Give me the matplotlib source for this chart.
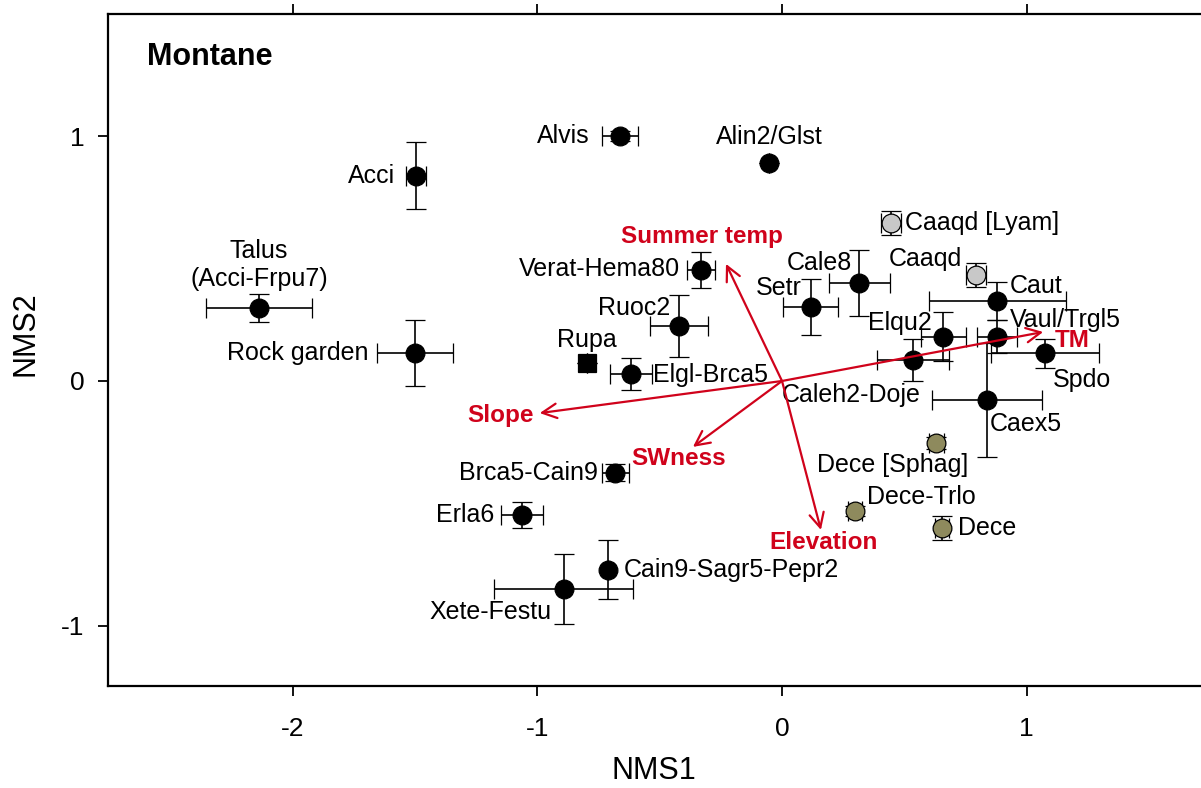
import matplotlib
matplotlib.use("Agg")
import matplotlib.pyplot as plt

plt.rcParams['font.family'] = ['Liberation Sans', 'DejaVu Sans']

# site/community scores (mean +- se)
names = ['Acci', 'Alvis', 'Alin2/Glst', 'Talus\n(Acci-Frpu7)', 'Rock garden',
         'Verat-Hema80', 'Ruoc2', 'Rupa', 'Elgl-Brca5', 'Setr', 'Cale8',
         'Caaqd [Lyam]', 'Caaqd', 'Caut', 'Vaul/Trgl5', 'Elqu2', 'Caleh2-Doje',
         'Spdo', 'Caex5', 'Dece [Sphag]', 'Dece-Trlo', 'Dece', 'Brca5-Cain9',
         'Erla6', 'Cain9-Sagr5-Pepr2', 'Xete-Festu']
nms1 = [-1.496, -0.662, -0.053, -2.137, -1.50, -0.331, -0.421, -0.797, -0.617,
        0.118, 0.315, 0.445, 0.793, 0.879, 0.879, 0.658, 0.535, 1.075, 0.838,
        0.63, 0.298, 0.654, -0.682, -1.063, -0.711, -0.891]
nms2 = [0.837, 1.0, 0.89, 0.298, 0.114, 0.453, 0.224, 0.073, 0.029, 0.302, 0.40,
        0.645, 0.433, 0.326, 0.18, 0.18, 0.086, 0.114, -0.078, -0.253, -0.531,
        -0.60, -0.375, -0.547, -0.771, -0.849]
se1 = [0.04, 0.074, 0.0, 0.216, 0.155, 0.056, 0.118, 0.0, 0.086, 0.112, 0.125,
       0.04, 0.04, 0.28, 0.082, 0.092, 0.147, 0.22, 0.225, 0.03, 0.03, 0.03,
       0.055, 0.086, 0.0, 0.284]
se2 = [0.137, 0.02, 0.0, 0.057, 0.133, 0.075, 0.128, 0.0, 0.065, 0.116, 0.133,
       0.049, 0.049, 0.078, 0.067, 0.10, 0.086, 0.059, 0.233, 0.025, 0.02, 0.05,
       0.035, 0.053, 0.12, 0.141]
groups = ['b', 'b', 'b', 'b', 'b', 'b', 'b', 'sq', 'b', 'b', 'b', 'g', 'g', 'b',
          'b', 'b', 'b', 'b', 'b', 'o', 'o', 'o', 'b', 'b', 'b', 'b']

# environmental vectors
vec_names = ['Summer temp', 'TM', 'Slope', 'SWness', 'Elevation']
vec_x = [-0.229, 1.067, -0.99, -0.364, 0.159]
vec_y = [0.478, 0.2, -0.131, -0.269, -0.608]

# label placement (offset in pixels, alignment)
lab_off = [(-21, 0, 'right'), (-30, 0, 'right'), (0, 26, 'center'), (0, 43, 'center'),
           (-46, 0, 'right'), (-21, 1, 'right'), (-9, 18, 'right'), (0, 23, 'center'),
           (22, -1, 'left'), (-9, 19, 'right'), (-7, 20, 'right'), (14, 0, 'left'),
           (-14, 16, 'right'), (13, 15, 'left'), (13, 17, 'left'), (-11, 14, 'right'),
           (8, -35, 'right'), (8, -27, 'left'), (3, -24, 'left'), (32, -22, 'right'),
           (12, 14, 'left'), (16, 0, 'left'), (-17, 0, 'right'), (-28, 0, 'right'),
           (16, 0, 'left'), (-12, -23, 'right')]
vec_off = [(-24, 27, 'center'), (12, -9, 'left'), (-6, -2, 'right'),
           (-14, -12, 'center'), (3, -13, 'center')]

fill = {'b': 'black', 'sq': 'black', 'g': '#c8c8c8', 'o': '#8e8a5d'}
red = '#d0021b'

fig = plt.figure(figsize=(12.01, 7.88), dpi=100)
ax = fig.add_axes([108 / 1201, 1 - 686 / 788, 1105 / 1201, 672 / 788])

for i in range(len(names)):
    mk = 's' if groups[i] == 'sq' else 'o'
    ax.errorbar(nms1[i], nms2[i], xerr=se1[i], yerr=se2[i], fmt=mk,
                ms=13.5, mfc=fill[groups[i]], mec='black', mew=0.9,
                ecolor='black', elinewidth=1.2, capsize=7, capthick=1.2, zorder=3)
    dx, dy, ha = lab_off[i]
    ax.annotate(names[i], (nms1[i], nms2[i]), xytext=(dx, dy),
                textcoords='offset pixels', ha=ha, va='center',
                fontsize=18, multialignment='center', zorder=4)

for i in range(len(vec_names)):
    ax.annotate('', xy=(vec_x[i], vec_y[i]), xytext=(0, 0),
                arrowprops=dict(arrowstyle='->', color=red, lw=1.6,
                                mutation_scale=26, shrinkA=0, shrinkB=0),
                zorder=5)
    dx, dy, ha = vec_off[i]
    ax.annotate(vec_names[i], (vec_x[i], vec_y[i]), xytext=(dx, dy),
                textcoords='offset pixels', ha=ha, va='center',
                fontsize=17.5, fontweight='bold', color=red, zorder=6)

ax.set_xlim(-2.754, 1.761)
ax.set_ylim(-1.245, 1.498)
ax.set_xticks([-2, -1, 0, 1])
ax.set_xticklabels(['-2', '-1', '0', '1'])
ax.set_yticks([-1, 0, 1])
ax.set_yticklabels(['-1', '0', '1'])
ax.tick_params(axis='x', direction='out', length=7, width=1.3, labelsize=19,
               pad=15, top=True)
ax.tick_params(axis='y', direction='out', length=7, width=1.3, labelsize=19, pad=10)
for s in ax.spines.values():
    s.set_linewidth(1.6)

ax.set_xlabel('NMS1', fontsize=22)
ax.set_ylabel('NMS2', fontsize=22)
ax.xaxis.set_label_coords(0.494, -0.104)
ax.yaxis.set_label_coords(-0.061, 0.525)

ax.text(0.035, 0.936, 'Montane', transform=ax.transAxes, fontsize=22,
        fontweight='bold', va='center', ha='left')

fig.savefig('out.png', dpi=100)
